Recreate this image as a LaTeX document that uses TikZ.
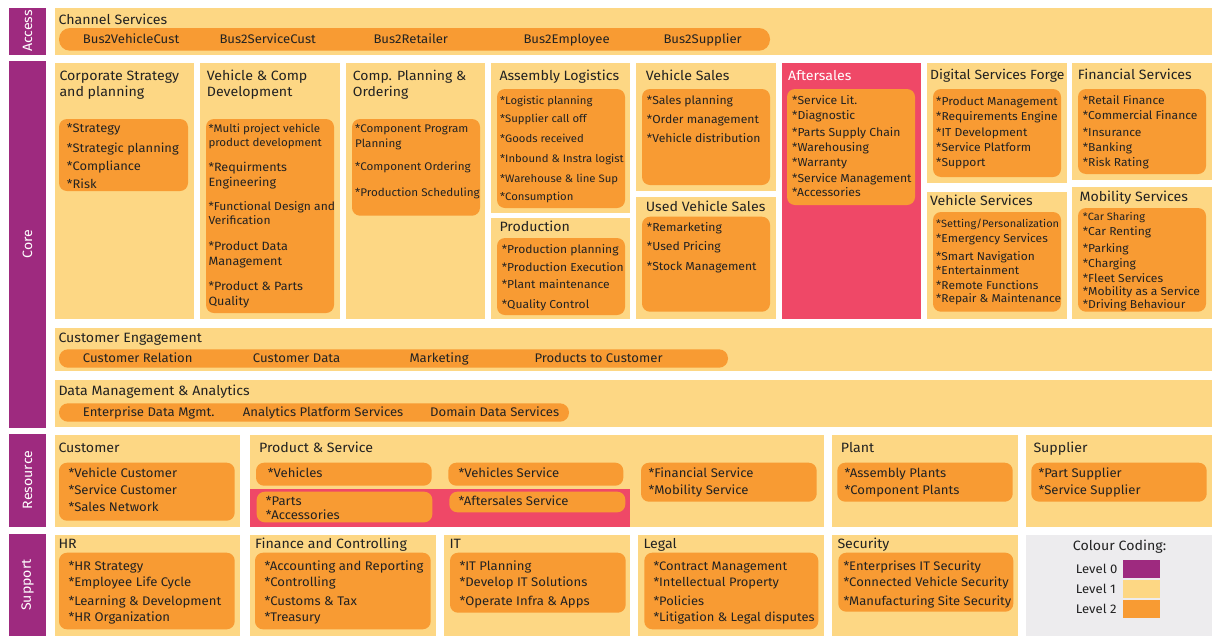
\documentclass[tikz,border=0pt]{standalone}
\usepackage{fontspec}
\setmainfont{Fira Sans}[Scale=1.0,FakeStretch=1.05]
\definecolor{lvlzero}{HTML}{9E2A7F}
\definecolor{lvlone}{HTML}{FDD784}
\definecolor{lvltwo}{HTML}{F89B33}
\definecolor{pinkc}{HTML}{EF4867}
\definecolor{greyc}{HTML}{EDECEE}
\definecolor{ink}{HTML}{222222}
\newcommand\fsz[1]{\fontsize{#1}{#1}\selectfont}
\newcommand\itemlist[4]{\foreach \yy/\lbl [count=\ii] in {#4}{\node[txt,font=\fsz{#3}] (#1-\ii) at (#2,\yy) {\lbl};}}
\begin{document}
\begin{tikzpicture}[x=1pt,y=-1pt,
  txt/.style={anchor=base west,inner sep=0pt,text=ink,font=\fsz{12}},
  ttl/.style={txt,font=\fsz{13.5}},
  vlab/.style={rotate=90,text=white,font=\fsz{13.5},inner sep=0pt},
  boxone/.style={fill=lvlone},
  boxpink/.style={fill=pinkc},
  barzero/.style={fill=lvlzero},
  pill/.style={fill=lvltwo,rounded corners=8pt},
  bigpill/.style={fill=lvltwo,rounded corners=10pt}]
\useasboundingbox (0,0) rectangle (1220,643);
% level 0 bars
\fill[barzero] (9,8) rectangle (46,54.5);
\fill[barzero] (9,61) rectangle (46,427.5);
\fill[barzero] (9,434.3) rectangle (46,526.7);
\fill[barzero] (9,534.3) rectangle (46,635.7);
\node[vlab] (access) at (27.5,31) {Access};
\node[vlab] (core) at (27.5,244) {Core};
\node[vlab] (resource) at (27.5,480) {Resource};
\node[vlab] (support) at (27.5,585) {Support};
% level 1 boxes
\fill[boxone] (55,8) rectangle (1212,55);
\fill[boxone] (55,63) rectangle (194,319);
\fill[boxone] (200,63) rectangle (340,319);
\fill[boxone] (346,63) rectangle (485,319);
\fill[boxone] (491,63) rectangle (630,212.5);
\fill[boxone] (491,218) rectangle (630,319);
\fill[boxone] (636,63) rectangle (776,191);
\fill[boxone] (636,196.5) rectangle (776,319);
\fill[boxpink] (781.5,63) rectangle (920.5,319);
\fill[boxone] (927,63) rectangle (1066.5,183);
\fill[boxone] (927,191.5) rectangle (1066.5,319);
\fill[boxone] (1072,63) rectangle (1212,180);
\fill[boxone] (1072,187) rectangle (1212,319);
\fill[boxone] (55,328) rectangle (1212,371);
\fill[boxone] (55,380) rectangle (1212,427);
\fill[boxone] (55,435) rectangle (240,526.5);
\fill[boxone] (250,435) rectangle (823.5,526.5);
\fill[boxpink] (250,488.5) rectangle (630,526.5);
\fill[boxone] (832,435) rectangle (1017.5,526.5);
\fill[boxone] (1026,435) rectangle (1212,526.5);
\fill[boxone] (55,534.5) rectangle (240,635.5);
\fill[boxone] (250,534.5) rectangle (435.5,635.5);
\fill[boxone] (444,534.5) rectangle (630,635.5);
\fill[boxone] (638,534.5) rectangle (824,635.5);
\fill[boxone] (832,534.5) rectangle (1017.5,635.5);
\fill[greyc] (1026,534.5) rectangle (1212,635.5);
% level 2 pills
\fill[bigpill,rounded corners=11pt] (59,28) rectangle (770,50.7);
\fill[bigpill,rounded corners=9pt] (59,349.3) rectangle (728,367.7);
\fill[bigpill,rounded corners=9pt] (59,403.3) rectangle (569,421.7);
\fill[pill] (59,119) rectangle (188,191);
\fill[pill] (206,119) rectangle (334,313);
\fill[pill] (352,119) rectangle (480,215.7);
\fill[pill] (497,89) rectangle (625,208);
\fill[pill] (497,238) rectangle (625,315);
\fill[pill] (642,89) rectangle (770,185);
\fill[pill] (642,216.7) rectangle (770,311.7);
\fill[pill] (787,89) rectangle (915,205);
\fill[pill] (933,89) rectangle (1061,177);
\fill[pill] (933,212) rectangle (1061,311.7);
\fill[pill] (1078,89) rectangle (1206,174);
\fill[pill] (1078,208) rectangle (1206,311.7);
\fill[pill] (59,462.7) rectangle (234.7,520.7);
\fill[pill] (256,462.7) rectangle (431.7,485.7);
\fill[pill] (256.7,491.7) rectangle (432.3,522.3);
\fill[pill] (448.3,462.7) rectangle (623.3,485.7);
\fill[pill] (449.3,491.7) rectangle (625.3,512.3);
\fill[pill] (641,462.7) rectangle (816.7,501.7);
\fill[pill] (837.3,462.7) rectangle (1012.7,501.7);
\fill[pill] (1031.3,462.7) rectangle (1206.7,501.7);
\fill[pill] (59,552.7) rectangle (234.7,629.3);
\fill[pill] (255,552.7) rectangle (430.7,629.3);
\fill[pill] (450,552.7) rectangle (625.7,612.7);
\fill[pill] (644.3,552.7) rectangle (818.3,629.3);
\fill[pill] (838.3,552.7) rectangle (1013.3,611.7);
% legend swatches
\fill[lvlzero] (1122.7,560) rectangle (1160,577.7);
\fill[lvlone] (1122.7,580) rectangle (1160,598.3);
\fill[lvltwo] (1122.7,600) rectangle (1160,617.7);
% ---- texts ----
\node[ttl] (chan) at (58.3,24) {Channel Services};
\node[txt,font=\fsz{12.5}] (bus1) at (82.7,43.3) {Bus2VehicleCust};
\node[txt,font=\fsz{12.5}] (bus2) at (219.3,43.3) {Bus2ServiceCust};
\node[txt,font=\fsz{12.5}] (bus3) at (373.3,43.3) {Bus2Retailer};
\node[txt,font=\fsz{12.5}] (bus4) at (523.3,43.3) {Bus2Employee};
\node[txt,font=\fsz{12.5}] (bus5) at (663.3,43.3) {Bus2Supplier};
% corporate
\itemlist{corpt}{59.3}{13.5}{80.7/Corporate Strategy,96.7/and planning}
\itemlist{corpi}{66.7}{12.3}{132.7/*Strategy,152.7/*Strategic planning,170.7/*Compliance,188.3/*Risk}
% vehicle & comp
\itemlist{vct}{206.7}{13.5}{80.7/Vehicle \& Comp,96.7/Development}
\itemlist{vca}{208.3}{11}{132.3/*Multi project vehicle,146/product development}
\itemlist{vcb}{208.3}{12}{171/*Requirments,186/Engineering}
\itemlist{vcc}{208.3}{11.5}{210/*Functional Design and,224.3/Verification}
\itemlist{vcd}{208.3}{12}{250/*Product Data,265.3/Management,290/*Product \& Parts,305/Quality}
% comp planning
\itemlist{cpt}{352.7}{13.3}{80.7/Comp. Planning \&,96.7/Ordering}
\itemlist{cpi}{355}{11.1}{132.7/*Component Program,147.7/Planning,170/*Component Ordering,196/*Production Scheduling}
% assembly
\node[ttl] (asst) at (499.3,80) {Assembly Logistics};
\itemlist{assi}{500}{10.8}{104/*Logistic planning,122.7/*Supplier call off,142.7/*Goods received,162.7/*Inbound \& Instra logist,182.7/*Warehouse \& line Sup,200.7/*Consumption}
% production
\node[ttl] (prodt) at (499.3,231.7) {Production};
\itemlist{prodi}{501.7}{11.5}{253.3/*Production planning,271/*Production Execution,288.3/*Plant maintenance,308.3/*Quality Control}
% vehicle sales
\node[ttl] (vst) at (645.7,80.7) {Vehicle Sales};
\itemlist{vsi}{646.7}{11.6}{104/*Sales planning,123.3/*Order management,142.7/*Vehicle distribution}
\node[ttl] (uvst) at (645.7,211.7) {Used Vehicle Sales};
\itemlist{uvsi}{646.7}{11.6}{231/*Remarketing,250/*Used Pricing,270/*Stock Management}
% aftersales
\node[ttl,text=white] (aftt) at (788,80) {Aftersales};
\itemlist{afti}{792}{11.6}{104/*Service Lit.,119/*Diagnostic,136/*Parts Supply Chain,151/*Warehousing,166/*Warranty,182/*Service Management,196/*Accessories}
% digital services forge
\node[ttl,font=\fsz{13.3}] (dsft) at (930,79) {Digital Services Forge};
\itemlist{dsfi}{936}{11.5}{105/*Product Management,120/*Requirements Engine,136.7/*IT Development,151.7/*Service Platform,166.7/*Support}
% vehicle services
\node[ttl] (vsvt) at (930,205.7) {Vehicle Services};
\node[txt,font=\fsz{10.5}] (vsva) at (936,227.7) {*Setting/Personalization};
\itemlist{vsvi}{936}{11.4}{242.7/*Emergency Services,260/*Smart Navigation,274.3/*Entertainment,289.3/*Remote Functions,302.7/*Repair \& Maintenance}
% financial services
\node[ttl] (fint) at (1077.7,79) {Financial Services};
\itemlist{fini}{1082.7}{11.5}{104.3/*Retail Finance,119.3/*Commercial Finance,136.7/*Insurance,151.7/*Banking,166.7/*Risk Rating}
% mobility services
\node[ttl] (mobt) at (1079.3,201.7) {Mobility Services};
\node[txt,font=\fsz{10.5}] (moba) at (1082.7,220.7) {*Car Sharing};
\itemlist{mobi}{1082.7}{11.5}{235.7/*Car Renting,252.3/*Parking,267.3/*Charging,282.3/*Fleet Services,295.7/*Mobility as a Service,308.3/*Driving Behaviour}
% customer engagement
\node[ttl] (cet) at (58.3,342.7) {Customer Engagement};
\node[txt,font=\fsz{12.5}] (ce1) at (82.7,362.7) {Customer Relation};
\node[txt,font=\fsz{12.5}] (ce2) at (252.7,362.7) {Customer Data};
\node[txt,font=\fsz{12.5}] (ce3) at (409.3,362.7) {Marketing};
\node[txt,font=\fsz{12.5}] (ce4) at (534.3,362.7) {Products to Customer};
% data management
\node[ttl] (dmt) at (58.3,395) {Data Management \& Analytics};
\node[txt,font=\fsz{12.5}] (dm1) at (82.7,416.7) {Enterprise Data Mgmt.};
\node[txt,font=\fsz{12.5}] (dm2) at (242.7,416.7) {Analytics Platform Services};
\node[txt,font=\fsz{12.5}] (dm3) at (430,416.7) {Domain Data Services};
% resource
\node[ttl] (cust) at (58.3,452.3) {Customer};
\itemlist{custi}{68.3}{12.5}{477.7/*Vehicle Customer,494.3/*Service Customer,511.7/*Sales Network}
\node[ttl] (pst) at (259,452.3) {Product \& Service};
\node[txt,font=\fsz{12.5}] (ps1) at (267.7,477.7) {*Vehicles};
\node[txt,font=\fsz{12.5}] (ps2) at (265.7,505) {*Parts};
\node[txt,font=\fsz{12.5}] (ps3) at (265.7,519) {*Accessories};
\node[txt,font=\fsz{12.5}] (ps4) at (458.3,477.7) {*Vehicles Service};
\node[txt,font=\fsz{12.5}] (ps5) at (458.3,505) {*Aftersales Service};
\node[txt,font=\fsz{12.5}] (ps6) at (648.3,477.7) {*Financial Service};
\node[txt,font=\fsz{12.5}] (ps7) at (648.3,494) {*Mobility Service};
\node[ttl] (plt) at (840.7,452.3) {Plant};
\itemlist{pli}{844.3}{12.5}{477.7/*Assembly Plants,494/*Component Plants}
\node[ttl] (supt) at (1033.3,452.3) {Supplier};
\itemlist{supi}{1038.3}{12.5}{477.7/*Part Supplier,494/*Service Supplier}
% support
\node[ttl] (hrt) at (58.3,548.3) {HR};
\itemlist{hri}{68.3}{12.5}{570/*HR Strategy,586.7/*Employee Life Cycle,605/*Learning \& Development,621.7/*HR Organization}
\node[ttl] (fct) at (255,548.3) {Finance and Controlling};
\itemlist{fci}{264.3}{12.5}{570/*Accounting and Reporting,586.7/*Controlling,605/*Customs \& Tax,621.7/*Treasury}
\node[ttl] (itt) at (449.3,548.3) {IT};
\itemlist{iti}{459.3}{12.5}{570/*IT Planning,586.7/*Develop IT Solutions,605/*Operate Infra \& Apps}
\node[ttl] (legt) at (643.3,548.3) {Legal};
\itemlist{legi}{653.3}{12.3}{570/*Contract Management,586.7/*Intellectual Property,605/*Policies,621.7/*Litigation \& Legal disputes}
\node[ttl] (sect) at (837.3,548.3) {Security};
\itemlist{seci}{843.3}{12.4}{570/*Enterprises IT Security,586.7/*Connected Vehicle Security,605/*Manufacturing Site Security}
% legend
\node[ttl] (legend) at (1072.7,550.7) {Colour Coding:};
\itemlist{lev}{1075.7}{12.5}{573.3/Level 0,593.3/Level 1,613.3/Level 2}
\end{tikzpicture}
\end{document}
